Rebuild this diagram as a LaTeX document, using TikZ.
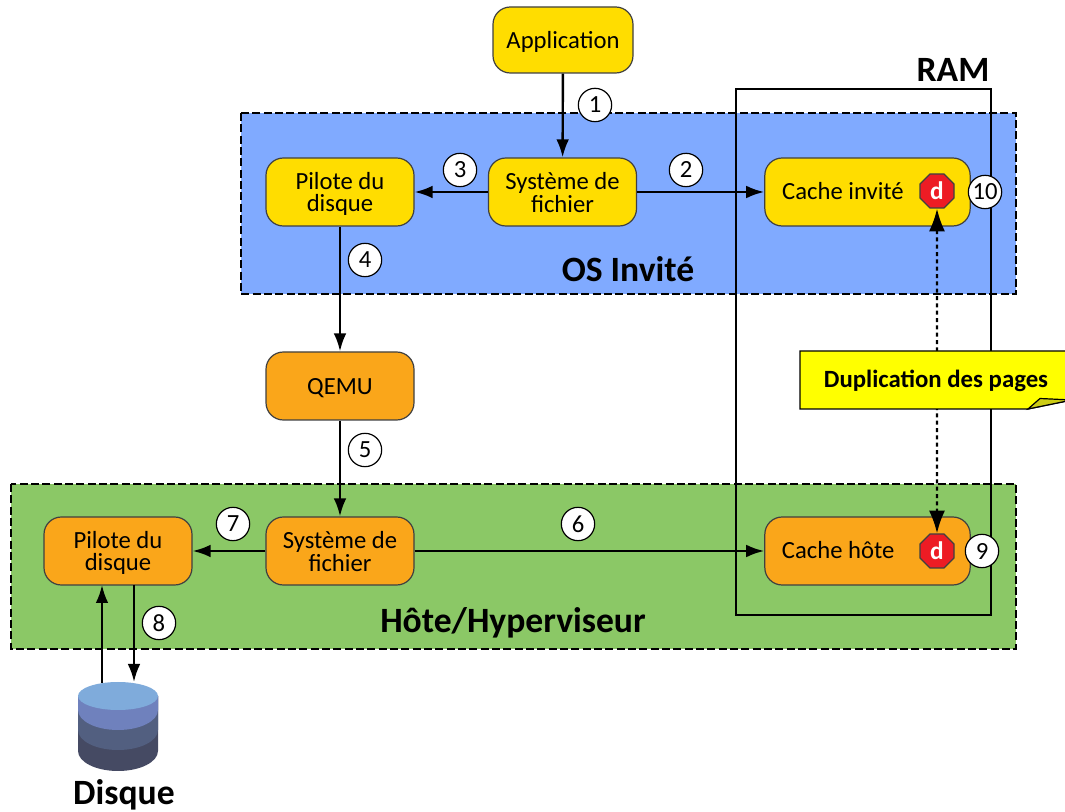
\documentclass[tikz,border=0pt]{standalone}
\usepackage{fontspec}
\setmainfont{Carlito}
\usepackage{tikz}
\usetikzlibrary{arrows.meta, shapes.geometric}
\definecolor{guestblue}{HTML}{80AAFF}
\definecolor{hostgreen}{HTML}{8BC866}
\definecolor{guestyellow}{HTML}{FFDD00}
\definecolor{hostorange}{HTML}{FAA61A}
\definecolor{stopred}{HTML}{ED1C24}
\definecolor{notefill}{HTML}{FFFF00}
\definecolor{notefold}{HTML}{CCCC14}
\definecolor{diskA}{HTML}{454A63}
\definecolor{diskB}{HTML}{525F80}
\definecolor{diskC}{HTML}{6F81BD}
\definecolor{diskD}{HTML}{7FABDB}

\begin{document}
\begin{tikzpicture}[x=0.75pt,y=-0.75pt,>={Latex[length=13.5pt,width=9.5pt]},font=\fontsize{18.5}{17}\selectfont]
  \tikzstyle{layer}=[draw=black, line width=1.9pt, dash pattern=on 6pt off 2.5pt]
  \tikzstyle{block}=[draw=black!75, line width=0.9pt, rounded corners=13pt, minimum width=111pt, minimum height=51pt, inner sep=0pt]
  \tikzstyle{blocktext}=[align=center, inner sep=0pt, yshift=-1.5pt, rounded corners=0pt]
  \tikzstyle{cachebox}=[block, minimum width=154pt]
  \tikzstyle{step_no}=[circle, draw=black, fill=white, line width=0.9pt, minimum size=25pt, inner sep=0pt]
  \tikzstyle{stop_d}=[regular polygon, regular polygon sides=8, draw=black!75, fill=stopred, line width=0.9pt, minimum size=27.6pt, inner sep=0pt, text=white, font=\fontsize{19}{19}\selectfont\bfseries]
  \tikzstyle{link}=[->, line width=1.8pt]
  \tikzstyle{dup}=[<->, >={Latex[length=17pt,width=12pt]}, line width=1.8pt, dash pattern=on 3pt off 2.5pt]
  \tikzstyle{big}=[inner sep=0pt, font=\fontsize{26.7}{28}\selectfont\bfseries]

  \useasboundingbox (0,0) rectangle (1065,812);
  \clip (0,0) rectangle (1065,812);

  % layers
  \draw[layer, fill=guestblue] (241,113) rectangle (1016,294);
  \draw[layer, fill=hostgreen] (11,484) rectangle (1016,649);
  \draw[line width=1.2pt] (736,89) rectangle (991,615);
  \node[big] (L_ram) at (953,70) {RAM};
  \node[big] (L_guest) at (628,269) {OS Invité};
  \node[big] (L_host) at (513,623) {Hôte/Hyperviseur};

  % blocks
  \node[block, fill=guestyellow, minimum width=105pt, minimum height=49.5pt, label={[blocktext]center:Application}] (G_app) at (563,40) {};
  \node[block, fill=guestyellow, label={[blocktext, yshift=1.2pt]center:Système de\\fichier}] (G_fs) at (562.5,192) {};
  \node[block, fill=guestyellow, label={[blocktext]center:Pilote du\\disque}] (G_drv) at (340,192) {};
  \node[cachebox, fill=guestyellow, label={[blocktext, xshift=-18.4pt, yshift=2pt]center:Cache invité}] (G_cache) at (867.5,192) {};
  \node[block, fill=hostorange, label={[blocktext]center:QEMU}] (H_qemu) at (340,386) {};
  \node[block, fill=hostorange, label={[blocktext, yshift=1.2pt]center:Système de\\fichier}] (H_fs) at (340,551) {};
  \node[block, fill=hostorange, label={[blocktext]center:Pilote du\\disque}] (H_drv) at (118,551) {};
  \node[cachebox, fill=hostorange, label={[blocktext, xshift=-22pt, yshift=2pt]center:Cache hôte}] (H_cache) at (867.5,551) {};
  \node[stop_d] (G_d) at (937,191) {d};
  \node[stop_d] (H_d) at (937,551) {d};

  % disk
  \fill[diskA] (78,696) -- (78,751) arc[start angle=180, end angle=0, x radius=40, y radius=20] -- (158,696) -- cycle;
  \fill[diskB] (78,696) -- (78,730) arc[start angle=180, end angle=0, x radius=40, y radius=20] -- (158,696) -- cycle;
  \fill[diskC] (78,696) -- (78,710) arc[start angle=180, end angle=0, x radius=40, y radius=20] -- (158,696) -- cycle;
  \fill[diskD] (118,696) ellipse[x radius=40, y radius=14];
  \coordinate (D_in) at (134,682);
  \coordinate (D_out) at (102,683);
  \coordinate (H_drv_in) at (102,585);
  \coordinate (H_drv_out) at (134,585);
  \node[big] (L_disk) at (124,795) {Disque};

  % links
  \draw[link] (G_app) -- (G_fs);
  \draw[link] (G_fs) -- (G_drv);
  \draw[link] (G_fs) -- (G_cache);
  \draw[link] (G_drv) -- (H_qemu);
  \draw[link] (H_qemu) -- (H_fs);
  \draw[link] (H_fs) -- (H_drv);
  \draw[link] (H_fs) -- (H_cache);
  \draw[link] (H_drv_out) -- (D_in);
  \draw[link] (D_out) -- (H_drv_in);
  \draw[dup] (G_d) -- (H_d);

  % note
  \draw[fill=notefill, line width=0.9pt] (800,351) -- (1072,351) -- (1072,400) -- (1028,409) -- (800,409) -- cycle;
  \draw[fill=notefold, line width=0.9pt] (1028,409) -- (1040,398.5) -- (1072,400) -- cycle;
  \node[inner sep=0pt, font=\fontsize{18.6}{20}\selectfont\bfseries] (N_dup) at (936,381) {Duplication des pages};

  % numbers
  \node[step_no] (S_1) at (595,105) {1};
  \node[step_no] (S_2) at (686,170) {2};
  \node[step_no] (S_3) at (460,170) {3};
  \node[step_no] (S_4) at (365,260) {4};
  \node[step_no] (S_5) at (365,450) {5};
  \node[step_no] (S_6) at (578,524) {6};
  \node[step_no] (S_7) at (233,524) {7};
  \node[step_no] (S_8) at (159,623) {8};
  \node[step_no] (S_9) at (982,551) {9};
  \node[step_no] (S_10) at (985,192) {10};
\end{tikzpicture}
\end{document}
